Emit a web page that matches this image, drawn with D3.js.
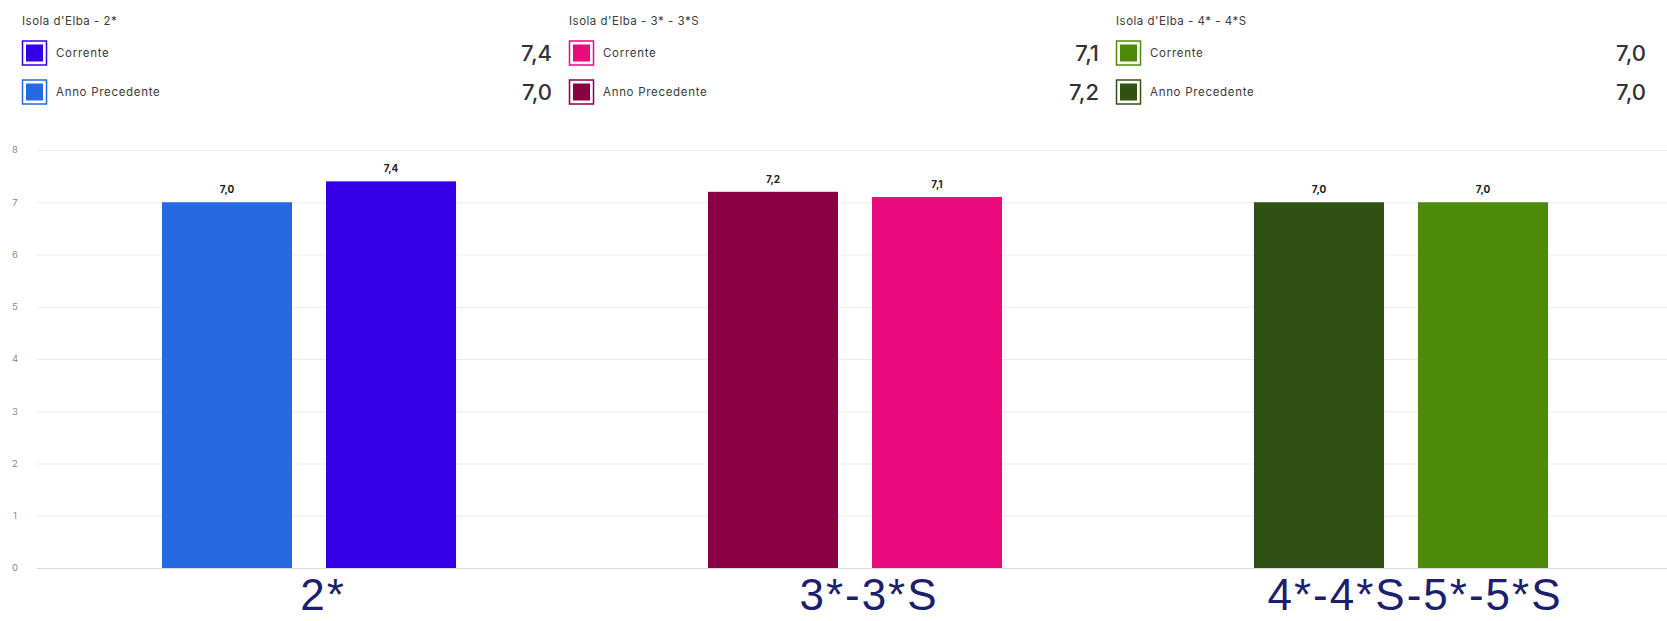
<!DOCTYPE html>
<html>
<head>
<meta charset="utf-8">
<script src="https://cdn.jsdelivr.net/npm/d3@7"></script>
<style>
  html, body { margin: 0; padding: 0; background: #fff; }
  svg { display: block; }
</style>
</head>
<body>
<div id="chart-area"></div>
<script>
// data
var categories = ["2*", "3*-3*S", "4*-4*S-5*-5*S"];
var legendTitles = ["Isola d'Elba - 2*", "Isola d'Elba - 3* - 3*S", "Isola d'Elba - 4* - 4*S"];
var seriesNames = ["Anno Precedente", "Corrente"];
var prevValues = [7.0, 7.2, 7.0];
var currValues = [7.4, 7.1, 7.0];
var prevColors = ["#2469df", "#8a0044", "#2f5214"];
var currColors = ["#3300e8", "#ea0a7e", "#4e8a0a"];
var yTicks = [0, 1, 2, 3, 4, 5, 6, 7, 8];

var width = 1667, height = 621;

var locale = d3.formatLocale({ decimal: ",", thousands: ".", grouping: [3], currency: ["€", ""] });
var fmt = locale.format(".1f");

var svg = d3.select("#chart-area")
  .append("svg")
  .attr("width", width)
  .attr("height", height);

// table built from the arrays
var rows = categories.map(function(c, i) {
  return {
    cat: c,
    title: legendTitles[i],
    bars: [
      { name: seriesNames[0], value: prevValues[i], color: prevColors[i] },
      { name: seriesNames[1], value: currValues[i], color: currColors[i] }
    ]
  };
});

// scales
var x0 = d3.scaleBand().domain(categories).range([36, 1674]).padding(0);
var x1 = d3.scaleBand().domain(seriesNames).range([0, x0.bandwidth()])
  .paddingInner(0.207).paddingOuter(0.768);
var y = d3.scaleLinear().domain([0, 8]).range([568, 150]);

// grid + y labels
var yAxis = svg.append("g").attr("class", "y axis");
yAxis.selectAll("line").data(yTicks).enter().append("line")
  .attr("x1", 37).attr("x2", width)
  .attr("y1", function(d) { return y(d) + 0.5; })
  .attr("y2", function(d) { return y(d) + 0.5; })
  .attr("stroke", function(d) { return d === 0 ? "#dcdcdc" : "#ededed"; })
  .attr("stroke-width", 1);
yAxis.selectAll("text").data(yTicks).enter().append("text")
  .attr("x", 15)
  .attr("y", function(d) { return y(d); })
  .attr("dy", "0.35em")
  .attr("text-anchor", "middle")
  .attr("font-family", "Inter, 'DejaVu Sans', sans-serif")
  .attr("font-size", "9.5px")
  .attr("fill", "#888")
  .text(function(d) { return d; });

// bars
var groups = svg.selectAll("g.group").data(rows).enter().append("g")
  .attr("class", "group")
  .attr("transform", function(d) { return "translate(" + x0(d.cat) + ",0)"; });

groups.selectAll("rect").data(function(d) { return d.bars; }).enter().append("rect")
  .attr("x", function(d) { return x1(d.name); })
  .attr("y", function(d) { return y(d.value); })
  .attr("width", x1.bandwidth())
  .attr("height", function(d) { return y(0) - y(d.value); })
  .attr("fill", function(d) { return d.color; });

groups.selectAll("text.val").data(function(d) { return d.bars; }).enter().append("text")
  .attr("class", "val")
  .attr("x", function(d) { return x1(d.name) + x1.bandwidth() / 2; })
  .attr("y", function(d) { return y(d.value) - 9; })
  .attr("text-anchor", "middle")
  .attr("font-family", "Inter, 'DejaVu Sans', sans-serif")
  .attr("font-size", "10px")
  .attr("font-weight", "bold")
  .attr("fill", "#222")
  .text(function(d) { return fmt(d.value); });

// category labels
svg.selectAll("text.cat").data(categories).enter().append("text")
  .attr("class", "cat")
  .attr("x", function(d) { return x0(d) + x0.bandwidth() / 2 + 14; })
  .attr("y", 610)
  .attr("text-anchor", "middle")
  .attr("font-family", "'Liberation Sans', Arial, sans-serif")
  .attr("font-size", "44px")
  .attr("letter-spacing", "2px")
  .attr("fill", "#1c1f6b")
  .text(function(d) { return d; });

// legend
var legend = svg.selectAll("g.legend").data(rows).enter().append("g")
  .attr("class", "legend")
  .attr("transform", function(d, i) { return "translate(" + (22 + i * 547) + ",0)"; });

legend.append("text")
  .attr("x", 0).attr("y", 21).attr("dy", "0.35em")
  .attr("font-family", "Inter, 'DejaVu Sans', sans-serif")
  .attr("font-size", "11.5px")
  .attr("letter-spacing", "0.5px")
  .attr("fill", "#3a3a3a")
  .text(function(d) { return d.title; });

var items = legend.selectAll("g.item")
  .data(function(d) { return [d.bars[1], d.bars[0]]; })
  .enter().append("g")
  .attr("class", "item")
  .attr("transform", function(d, i) { return "translate(0," + (53 + i * 39) + ")"; });

items.append("rect")
  .attr("x", 0.5).attr("y", -12)
  .attr("width", 24).attr("height", 24)
  .attr("fill", "#fff")
  .attr("stroke", function(d) { return d.color; })
  .attr("stroke-width", 1.5);
items.append("rect")
  .attr("x", 4).attr("y", -8.5)
  .attr("width", 17).attr("height", 17)
  .attr("fill", function(d) { return d.color; });

items.append("text")
  .attr("x", 34).attr("y", 0).attr("dy", "0.35em")
  .attr("font-family", "Inter, 'DejaVu Sans', sans-serif")
  .attr("font-size", "11.5px")
  .attr("letter-spacing", "0.7px")
  .attr("fill", "#3a3a3a")
  .text(function(d) { return d.name; });

items.append("text")
  .attr("x", 530).attr("y", 0).attr("dy", "0.36em")
  .attr("text-anchor", "end")
  .attr("font-family", "Inter, 'DejaVu Sans', sans-serif")
  .attr("font-size", "22px")
  .attr("font-weight", 500)
  .attr("fill", "#333")
  .text(function(d) { return fmt(d.value); });
</script>
</body>
</html>
